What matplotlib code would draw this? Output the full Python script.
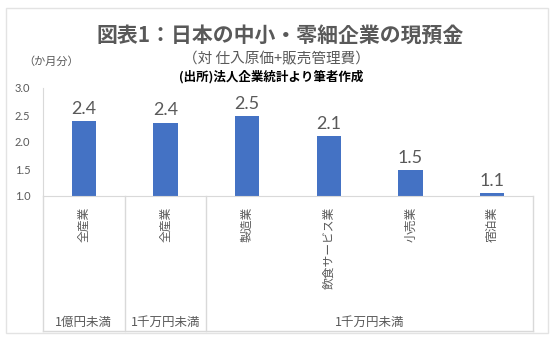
import matplotlib
matplotlib.use("Agg")
import matplotlib.pyplot as plt
import matplotlib.transforms as mtransforms
from matplotlib.lines import Line2D
from matplotlib.patches import Rectangle

plt.rcParams['font.family'] = ['Noto Sans CJK JP', 'DejaVu Sans']

# cash & deposits, in months of (cost of sales + SG&A)
industries = ["全産業", "全産業", "製造業", "飲食サービス業", "小売業", "宿泊業"]
cash_months = [2.39, 2.36, 2.48, 2.11, 1.48, 1.06]
# capital size groups on the second axis level: (label, first idx, last idx)
capital_groups = [("1億円未満", 0, 0), ("1千万円未満", 1, 1), ("1千万円未満", 2, 5)]
y_ticks = [1.0, 1.5, 2.0, 2.5, 3.0]

GRAY = "#595959"
LINE = "#d9d9d9"
BLUE = "#4472c4"

W, H = 560, 343
fig = plt.figure(figsize=(W / 100, H / 100), dpi=100)


def fx(px):
    return px / W


def fy(py):
    return 1 - py / H


ax = fig.add_axes([fx(43), fy(196), fx(533) - fx(43), fy(88) - fy(196)])

x = list(range(len(industries)))
ax.bar(x, cash_months, width=0.3, color=BLUE, zorder=2)
for i, v in zip(x, cash_months):
    ax.annotate(f"{v:.1f}", (i, v), xytext=(0, 3), textcoords="offset points",
                ha="center", va="bottom", fontsize=13, color=GRAY,
                family=["Lato", "DejaVu Sans"])

ax.set_xlim(-0.5, len(industries) - 0.5)
ax.set_ylim(1.0, 3.0)
ax.set_yticks(y_ticks)
ax.set_yticklabels([f"{t:.1f}" for t in y_ticks], family=["Lato", "DejaVu Sans"])
ax.tick_params(axis="y", length=0, pad=9, labelsize=8, labelcolor=GRAY)
ax.set_xticks(x)
ax.set_xticklabels(industries, rotation=90, va="top", ha="center")
ax.tick_params(axis="x", length=0, pad=8, labelsize=8.5, labelcolor=GRAY)

for side in ["top", "right"]:
    ax.spines[side].set_visible(False)
ax.spines["left"].set_color(LINE)
ax.spines["bottom"].set_color(LINE)

# boxes of the two-level category axis
blend = mtransforms.blended_transform_factory(ax.transData, fig.transFigure)
for bx in [-0.5, 0.5, 1.5, 5.5]:
    fig.add_artist(Line2D([bx, bx], [fy(196), fy(331)], transform=blend,
                          color=LINE, lw=1))
fig.add_artist(Line2D([-0.5, 5.5], [fy(331), fy(331)], transform=blend,
                      color=LINE, lw=1))
for name, a, b in capital_groups:
    fig.text((a + b) / 2, fy(322), name, transform=blend, ha="center",
             va="center", fontsize=9, color=GRAY)

# outer chart frame
fig.add_artist(Rectangle((fx(6), fy(333)), fx(548) - fx(6), fy(8) - fy(333),
                         transform=fig.transFigure, fill=False,
                         edgecolor="#e3e3e3", lw=1))

fig.text(0.5, fy(35), "図表1：日本の中小・零細企業の現預金", ha="center",
         va="center", fontsize=15, fontweight="bold", color=GRAY)
fig.text(fx(276), fy(59), "（対 仕入原価+販売管理費）", ha="center",
         va="center", fontsize=10.5, color=GRAY)
fig.text(fx(271), fy(77), "(出所)法人企業統計より筆者作成", ha="center",
         va="center", fontsize=9, fontweight="bold", color="black")
fig.text(fx(23), fy(62), "（か月分）", ha="left", va="center",
         fontsize=8, color=GRAY)

fig.savefig("out.png", dpi=100)
